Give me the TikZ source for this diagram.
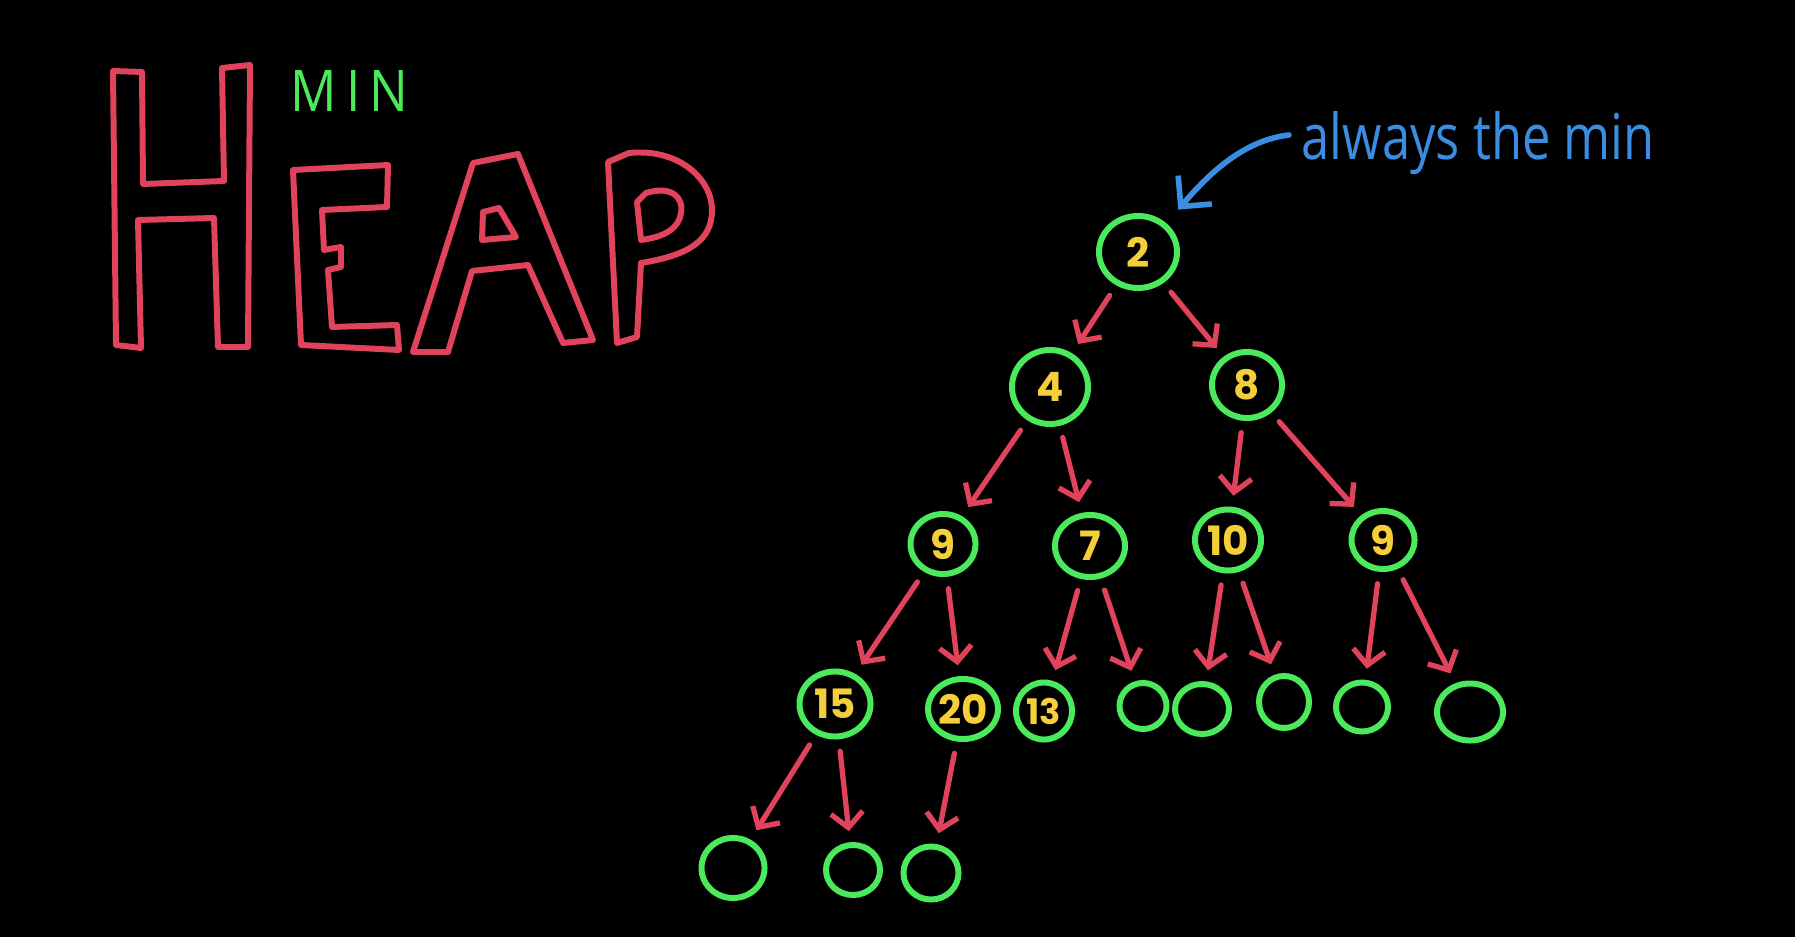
\documentclass[tikz,border=0pt]{standalone}
\usepackage{fontspec}
\usepackage{graphicx}
\usetikzlibrary{shapes.geometric,arrows.meta}
\newfontfamily\digitfont{Poppins}
\newfontfamily\handfont{Open Sans}
\newfontfamily\minfont[LetterSpace=18]{Open Sans}
\definecolor{hgreen}{HTML}{4BEA5C}
\definecolor{hyellow}{HTML}{F4CF3A}
\definecolor{hred}{HTML}{E2435C}
\definecolor{hblue}{HTML}{3A8DE0}
\begin{document}
\begin{tikzpicture}[x=0.01cm,y=-0.01cm,
  hn/.style={ellipse,draw=hgreen,line width=1.7pt,inner sep=0pt,text=hyellow,font=\digitfont\bfseries\fontsize{11.5}{11.5}\selectfont},
  edge/.style={draw=hred,line width=1.5pt,line cap=round,line join=round,-{Straight Barb[length=1.5mm,width=3.2mm]},shorten <=1.2mm,shorten >=1.1mm},
  letter/.style={draw=hred,line width=1.7pt,line join=round}]
\fill[black] (0,0) rectangle (1795,937);
\useasboundingbox (0,0) rectangle (1795,937);
% HEAP
\draw[letter] (113,71) -- (142,72) -- (143,184) -- (224,181) -- (222,68) -- (250,65) -- (248,347) -- (218,347) -- (214,218) -- (138,220) -- (141,348) -- (116,345) -- cycle;
\draw[letter] (293,170) -- (388,165) -- (387,207) -- (322,210) -- (324,250) -- (341,247) -- (341,267) -- (328,270) -- (332,327) -- (397,325) -- (399,350) -- (301,345) -- cycle;
\draw[letter] (413,352) -- (473,163) -- (518,154) -- (593,340) -- (563,343) -- (528,265) -- (472,271) -- (448,352) -- cycle;
\draw[letter] (483,212) -- (499,208) -- (516,237) -- (482,240) -- cycle;
\draw[letter] (617,343) -- (608,162) -- (629,153) .. controls (680,148) and (712,180) .. (712,210) .. controls (712,240) and (690,255) .. (641,263) -- (637,337) -- cycle;
\draw[letter] (641,240) -- (637,202) -- (646,193) .. controls (672,185) and (684,198) .. (681,213) .. controls (679,228) and (665,237) .. (641,240) -- cycle;
\node[anchor=base west,inner sep=0pt,text=hgreen] (mintxt) at (290,112) {\resizebox{1.18cm}{0.41cm}{\minfont MIN}};
% annotation
\node[anchor=base west,inner sep=0pt,text=hblue] (note) at (1301,160) {\resizebox{3.53cm}{0.48cm}{\handfont always the min}};
% tree nodes
\node[hn,minimum width=7.8mm,minimum height=7.2mm] (n2) at (1138,252) {2};
\node[hn,minimum width=7.6mm,minimum height=7.4mm] (n4) at (1050,387) {4};
\node[hn,minimum width=7.0mm,minimum height=6.6mm] (n8) at (1247,385) {8};
\node[hn,minimum width=6.5mm,minimum height=6.0mm] (n9a) at (943,544) {9};
\node[hn,minimum width=7.0mm,minimum height=6.2mm] (n7) at (1090,546) {7};
\node[hn,minimum width=6.6mm,minimum height=6.1mm] (n10) at (1228,540) {10};
\node[hn,minimum width=6.3mm,minimum height=5.8mm] (n9b) at (1383,540) {9};
\node[hn,minimum width=7.1mm,minimum height=6.5mm] (n15) at (835,704) {15};
\node[hn,minimum width=6.2mm,minimum height=6.0mm] (n20) at (963,709) {20};
\node[hn,minimum width=5.6mm,minimum height=5.7mm,font=\digitfont\bfseries\fontsize{10}{10}\selectfont] (n13) at (1044,711) {13};
\node[hn,minimum width=4.7mm,minimum height=4.6mm] (e1) at (1143,706) {};
\node[hn,minimum width=5.4mm,minimum height=5.0mm] (e2) at (1202,709) {};
\node[hn,minimum width=5.0mm,minimum height=5.2mm] (e3) at (1284,702) {};
\node[hn,minimum width=5.2mm,minimum height=4.9mm] (e4) at (1362,707) {};
\node[hn,minimum width=6.6mm,minimum height=5.7mm] (e5) at (1470,712) {};
\node[hn,minimum width=6.3mm,minimum height=6.0mm] (b1) at (733,868) {};
\node[hn,minimum width=5.4mm,minimum height=5.0mm] (b2) at (853,870) {};
\node[hn,minimum width=5.5mm,minimum height=5.3mm] (b3) at (931,873) {};
% edges
\draw[edge] (n2) -- (n4);
\draw[edge] (n2) -- (n8);
\draw[edge] (n4) -- (n9a);
\draw[edge] (n4) -- (n7);
\draw[edge] (n8) -- (n10);
\draw[edge] (n8) -- (n9b);
\draw[edge] (n9a) -- (n15);
\draw[edge] (n9a) -- (n20);
\draw[edge] (n7) -- (n13);
\draw[edge] (n7) -- (e1);
\draw[edge] (n10) -- (e2);
\draw[edge] (n10) -- (e3);
\draw[edge] (n9b) -- (e4);
\draw[edge] (n9b) -- (e5);
\draw[edge] (n15) -- (b1);
\draw[edge] (n15) -- (b2);
\draw[edge] (n20) -- (b3);
% blue arrow
\coordinate (bstart) at (1289,135);
\draw[hblue,line width=1.6pt,line cap=round,-{Straight Barb[length=2.2mm,width=4.4mm]},shorten >=1.8mm] (bstart) .. controls (1245,140) and (1210,172) .. (n2.45);
\end{tikzpicture}
\end{document}
